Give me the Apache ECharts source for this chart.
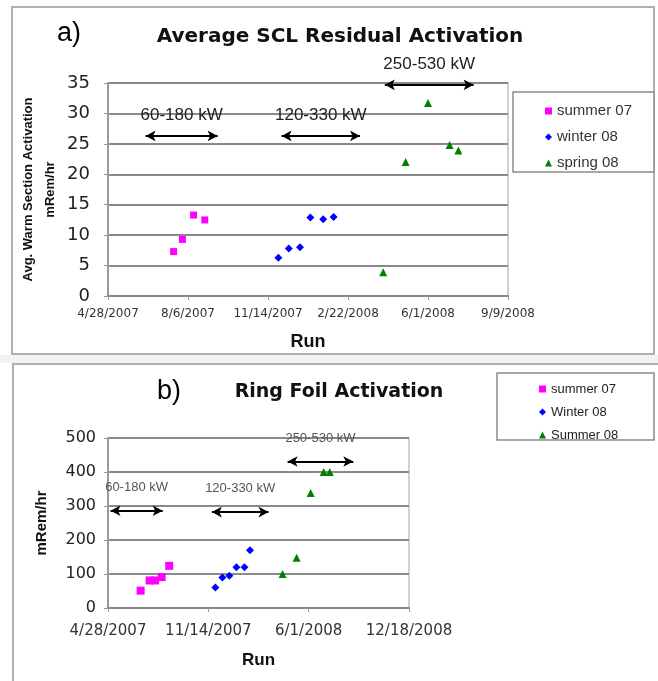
<!DOCTYPE html>
<html><head><meta charset="utf-8">
<script src="https://cdn.jsdelivr.net/npm/echarts@6/dist/echarts.min.js"></script>
<style>html,body{margin:0;padding:0;background:#fff}#c{width:658px;height:681px}</style>
</head><body><div id="c"></div>
<script>
// ---------- Panel a) Average SCL Residual Activation ----------
const xTicksA = ['4/28/2007','8/6/2007','11/14/2007','2/22/2008','6/1/2008','9/9/2008'];
const yTicksA = [0,5,10,15,20,25,30,35];
const aSummer07Dates = ['7/19/2007','7/30/2007','8/13/2007','8/27/2007'];
const aSummer07Vals  = [7.3, 9.3, 13.3, 12.5];
const aWinter08Dates = ['11/27/2007','12/10/2007','12/24/2007','1/6/2008','1/22/2008','2/4/2008'];
const aWinter08Vals  = [6.3, 7.8, 8.0, 12.9, 12.6, 13.0];
const aSpring08Dates = ['4/6/2008','5/4/2008','6/1/2008','6/28/2008','7/9/2008'];
const aSpring08Vals  = [3.9, 22.0, 31.7, 24.8, 23.9];
const aArrowText = ['60-180 kW','120-330 kW','250-530 kW'];
const aArrowFrom = ['6/14/2007','12/1/2007','4/8/2008'];
const aArrowTo   = ['9/12/2007','3/8/2008','7/28/2008'];
const aArrowY    = [26.3, 26.3, 34.7];

// ---------- Panel b) Ring Foil Activation ----------
const xTicksB = ['4/28/2007','11/14/2007','6/1/2008','12/18/2008'];
const yTicksB = [0,100,200,300,400,500];
const bSummer07Dates = ['7/2/2007','7/20/2007','7/31/2007','8/13/2007','8/28/2007'];
const bSummer07Vals  = [51, 81, 81, 91, 124];
const bWinter08Dates = ['11/28/2007','12/12/2007','12/26/2007','1/9/2008','1/25/2008','2/5/2008'];
const bWinter08Vals  = [60, 90, 95, 120, 120, 170];
const bSummer08Dates = ['4/10/2008','5/8/2008','6/5/2008','7/1/2008','7/13/2008'];
const bSummer08Vals  = [100, 148, 338, 400, 400];
const bArrowText = ['60-180 kW','120-330 kW','250-530 kW'];
const bArrowFrom = ['5/3/2007','11/21/2007','4/20/2008'];
const bArrowTo   = ['8/15/2007','3/13/2008','8/29/2008'];
const bArrowY    = [286, 282, 431];

// Excel-style day serial for a M/D/YYYY string
function serial(s){ const [m,d,y]=s.split('/').map(Number); return Date.UTC(y,m-1,d)/86400000 + 25569; }
function pts(dates, vals){ return dates.map((d,i)=>[serial(d), vals[i]]); }
function tickFmt(ticks){ return v => { const i = ticks.findIndex(t=>serial(t)===v); return i>=0 ? ticks[i] : ''; }; }
function arrows(text, from, to, ys){ return text.map((t,i)=>[{name:t, coord:[serial(from[i]), ys[i]]},{coord:[serial(to[i]), ys[i]]}]); }

const FONT = 'DejaVu Sans';
const ARIAL = 'Liberation Sans';
const PINK='#ff00ff', BLUE='#0000ff', GREEN='#008000';

function xAxis(ticks, gridIndex, fs, margin, nameGap, nameSize){
  const min = serial(ticks[0]), max = serial(ticks[ticks.length-1]);
  return {type:'value', gridIndex, min, max, interval: serial(ticks[1]) - min,
    name:'Run', nameLocation:'middle', nameGap, nameMoveOverlap:false,
    nameTextStyle:{fontFamily:ARIAL, fontWeight:'bold', fontSize:nameSize, color:'#111'},
    axisLine:{show:true, lineStyle:{color:'#8a8a8a', width:2}},
    axisTick:{show:true, length:4, lineStyle:{color:'#999'}},
    axisLabel:{formatter: tickFmt(ticks), fontFamily:FONT, fontSize:fs, color:'#333', margin, hideOverlap:false},
    splitLine:{show:false}};
}
function yAxis(ticks, gridIndex, fs, margin, name, nameGap, nameStyle){
  return {type:'value', gridIndex, min:ticks[0], max:ticks[ticks.length-1], interval:ticks[1]-ticks[0],
    name, nameLocation:'middle', nameRotate:90, nameGap, nameMoveOverlap:false, nameTextStyle:nameStyle,
    axisLine:{show:true, lineStyle:{color:'#9a9a9a', width:2}},
    axisTick:{show:true, length:4, lineStyle:{color:'#999'}},
    axisLabel:{fontFamily:FONT, fontSize:fs, color:'#222', margin},
    splitLine:{show:true, lineStyle:{color:'#8a8a8a', width:2}}};
}
function scatter(name, idx, symbol, size, color, data){
  return {type:'scatter', name, xAxisIndex:idx, yAxisIndex:idx, symbol, symbolSize:size,
    itemStyle:{color, opacity:1}, data, z:5};
}
function arrowSeries(idx, data, fs, color, dist){
  return {type:'scatter', name:'arrows'+idx, xAxisIndex:idx, yAxisIndex:idx, data:[], silent:true,
    markLine:{silent:true, symbol:['arrow','arrow'], symbolSize:[8,10], animation:false,
      lineStyle:{color:'#000', width:2, type:'solid'},
      label:{show:true, position:'insideMiddleTop', distance:dist, formatter:p=>p.name,
        fontFamily:ARIAL, fontSize:fs, color},
      emphasis:{disabled:true},
      data}};
}

const chart = echarts.init(document.getElementById('c'), null, {renderer:'canvas'});
chart.setOption({
  animation:false,
  backgroundColor:'#fff',
  graphic:[
    {type:'rect', z:-10, shape:{x:0,y:355,width:658,height:8}, style:{fill:'#f3f3f3'}},
    {type:'rect', z:-9, shape:{x:12,y:7,width:642,height:347}, style:{fill:'#fff', stroke:'#b0b0b0', lineWidth:2}},
    {type:'rect', z:-9, shape:{x:13,y:364,width:660,height:330}, style:{fill:'#fff', stroke:'#b0b0b0', lineWidth:2}},
    {type:'rect', z:-8, shape:{x:513,y:92,width:141,height:80}, style:{fill:'#fff', stroke:'#8a8a8a', lineWidth:1.5}},
    {type:'rect', z:-8, shape:{x:497,y:373,width:157,height:67}, style:{fill:'#fff', stroke:'#8a8a8a', lineWidth:1.5}},
    {type:'text', left:57, top:20, style:{text:'a)', font:'27px "Liberation Sans"', fill:'#000'}},
    {type:'text', left:157, top:378, style:{text:'b)', font:'27px "Liberation Sans"', fill:'#000'}}
  ],
  title:[
    {text:'Average SCL Residual Activation', left:335, top:22, textAlign:'center',
      textStyle:{fontFamily:FONT, fontWeight:'bold', fontSize:20, color:'#111'}},
    {text:'Ring Foil Activation', left:334, top:378, textAlign:'center',
      textStyle:{fontFamily:FONT, fontWeight:'bold', fontSize:19, color:'#111'}}
  ],
  legend:[
    {orient:'vertical', left:540, top:98, itemWidth:7, itemHeight:7, itemGap:10,
      data:['summer 07','winter 08','spring 08'],
      textStyle:{fontFamily:ARIAL, fontSize:15, lineHeight:16, color:'#333'}, selectedMode:false},
    {orient:'vertical', left:534, top:377, itemWidth:7, itemHeight:7, itemGap:9,
      data:['summer 07','Winter 08','Summer 08'],
      textStyle:{fontFamily:ARIAL, fontSize:13, lineHeight:14, color:'#222'}, selectedMode:false}
  ],
  grid:[
    {left:108, top:83, width:400, height:213, show:true, borderColor:'#c0c0c0', borderWidth:1.5, backgroundColor:'transparent'},
    {left:108, top:438, width:301, height:170, show:true, borderColor:'#c0c0c0', borderWidth:1.5, backgroundColor:'transparent'}
  ],
  xAxis:[ xAxis(xTicksA, 0, 12, 12, 37, 18), xAxis(xTicksB, 1, 15, 16, 44, 17) ],
  yAxis:[
    yAxis(yTicksA, 0, 18, 18, 'Avg. Warm Section Activation\nmRem/hr', 47,
      {fontFamily:ARIAL, fontWeight:'bold', fontSize:13, lineHeight:22, color:'#111'}),
    yAxis(yTicksB, 1, 16, 12, 'mRem/hr', 59,
      {fontFamily:ARIAL, fontWeight:'bold', fontSize:15, color:'#111'})
  ],
  series:[
    scatter('summer 07', 0, 'rect', 7, PINK, pts(aSummer07Dates, aSummer07Vals)),
    scatter('winter 08', 0, 'diamond', 8, BLUE, pts(aWinter08Dates, aWinter08Vals)),
    scatter('spring 08', 0, 'triangle', 8, GREEN, pts(aSpring08Dates, aSpring08Vals)),
    arrowSeries(0, arrows(aArrowText, aArrowFrom, aArrowTo, aArrowY), 17, '#222', 12),
    scatter('summer 07', 1, 'rect', 8, PINK, pts(bSummer07Dates, bSummer07Vals)),
    scatter('Winter 08', 1, 'diamond', 8, BLUE, pts(bWinter08Dates, bWinter08Vals)),
    scatter('Summer 08', 1, 'triangle', 8, GREEN, pts(bSummer08Dates, bSummer08Vals)),
    arrowSeries(1, arrows(bArrowText, bArrowFrom, bArrowTo, bArrowY), 13, '#555', 17)
  ]
});
</script></body></html>
